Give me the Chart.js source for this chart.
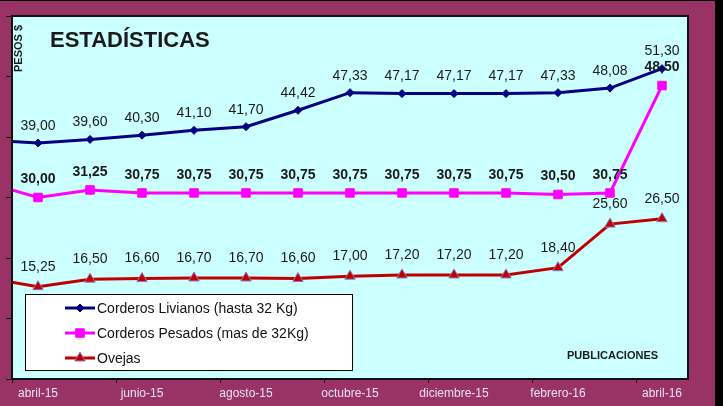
<!DOCTYPE html>
<html>
<head>
<meta charset="utf-8">
<script src="https://cdn.jsdelivr.net/npm/chart.js@4.4.1/dist/chart.umd.min.js"></script>
<style>
  html, body { margin: 0; padding: 0; background: #000; }
  #frame { position: absolute; left: 0; top: 1px; width: 715px; height: 405px; background: #993366; }
  #wrap { position: absolute; left: 0; top: 0; width: 723px; height: 406px; }
</style>
</head>
<body>
<div id="frame"></div>
<div id="wrap"><canvas id="chart"></canvas></div>
<script>
// months (first one sits left of the plot, only its line stub shows)
const months = [
  "marzo-15", "abril-15", "mayo-15", "junio-15", "julio-15", "agosto-15",
  "septiembre-15", "octubre-15", "noviembre-15", "diciembre-15",
  "enero-16", "febrero-16", "marzo-16", "abril-16",
];
const livianos = [39.5, 39.0, 39.6, 40.3, 41.1, 41.7, 44.42, 47.33, 47.17, 47.17, 47.17, 47.33, 48.08, 51.3];
const pesados = [32.5, 30.0, 31.25, 30.75, 30.75, 30.75, 30.75, 30.75, 30.75, 30.75, 30.75, 30.5, 30.75, 48.5];
const ovejas = [16.7, 15.25, 16.5, 16.6, 16.7, 16.7, 16.6, 17.0, 17.2, 17.2, 17.2, 18.4, 25.6, 26.5];

const yMin = 0;
const yMax = 60;
const yStep = 10;

const FONT = "'Liberation Sans', Arial, sans-serif";
const fmt = (v) => v.toFixed(2).replace(".", ",");

// cyan plot box + frame, texts, legend and value labels
const decor = {
  id: "decor",
  beforeDraw(chart) {
    const { ctx, chartArea: a } = chart;
    ctx.save();
    ctx.fillStyle = "#CCFFFF";
    ctx.fillRect(a.left, a.top, a.right - a.left, a.bottom - a.top);
    ctx.restore();
  },
  afterDatasetsDraw(chart) {
    const { ctx, chartArea: a } = chart;
    ctx.save();
    ctx.strokeStyle = "#111";
    ctx.lineWidth = 2;
    ctx.strokeRect(a.left, a.top, a.right - a.left, a.bottom - a.top);

    // value labels
    ctx.textAlign = "center";
    ctx.textBaseline = "middle";
    ctx.fillStyle = "#1a1a1a";
    chart.data.datasets.forEach((ds, i) => {
      const meta = chart.getDatasetMeta(i);
      ctx.font = (ds.labelBold ? "bold " : "") + "14px " + FONT;
      meta.data.forEach((pt, j) => {
        if (pt.x < a.left) return;
        ctx.fillText(fmt(ds.data[j]), pt.x, pt.y - ds.labelGap);
      });
    });

    // title
    ctx.textAlign = "left";
    ctx.textBaseline = "alphabetic";
    ctx.font = "bold 22px " + FONT;
    ctx.fillText("ESTADÍSTICAS", 50, 47);

    ctx.font = "bold 11px " + FONT;
    ctx.fillText("PUBLICACIONES", 567, 359);

    ctx.save();
    ctx.translate(22, 72);
    ctx.rotate(-Math.PI / 2);
    ctx.fillText("PESOS $", 0, 0);
    ctx.restore();

    // legend
    ctx.fillStyle = "#fff";
    ctx.fillRect(25, 294, 327, 76);
    ctx.strokeStyle = "#000";
    ctx.lineWidth = 1;
    ctx.strokeRect(25.5, 294.5, 327, 76);
    chart.data.datasets.forEach((ds, i) => {
      const y = 308 + i * 25;
      ctx.strokeStyle = ds.borderColor;
      ctx.lineWidth = 3;
      ctx.beginPath();
      ctx.moveTo(65, y);
      ctx.lineTo(95, y);
      ctx.stroke();
      ctx.fillStyle = ds.pointBackgroundColor;
      ctx.strokeStyle = ds.pointBorderColor;
      ctx.lineWidth = ds.pointBorderWidth;
      Chart.helpers.drawPoint(ctx, {
        pointStyle: ds.pointStyle,
        radius: ds.pointRadius,
        rotation: 0,
        borderWidth: ds.pointBorderWidth,
      }, 80, y);
      ctx.fillStyle = "#111";
      ctx.font = "14px " + FONT;
      ctx.textBaseline = "middle";
      ctx.fillText(ds.label, 97, y + 1);
    });
    ctx.restore();
  },
};

const ctx = document.getElementById("chart").getContext("2d");
new Chart(ctx, {
  type: "line",
  data: {
    labels: months,
    datasets: [
      {
        label: "Corderos Livianos (hasta 32 Kg)",
        data: livianos,
        borderColor: "#000080",
        borderWidth: 3,
        pointStyle: "rectRot",
        pointRadius: 4,
        pointBackgroundColor: "#000080",
        pointBorderColor: "#000080",
        pointBorderWidth: 1,
        labelGap: 17,
        labelBold: false,
      },
      {
        label: "Corderos Pesados (mas de 32Kg)",
        data: pesados,
        borderColor: "#FF00FF",
        borderWidth: 3,
        pointStyle: "rect",
        pointRadius: 6,
        pointBackgroundColor: "#FF00FF",
        pointBorderColor: "#FF00FF",
        pointBorderWidth: 1,
        labelGap: 18,
        labelBold: true,
      },
      {
        label: "Ovejas",
        data: ovejas,
        borderColor: "#C00000",
        borderWidth: 3,
        pointStyle: "triangle",
        pointRadius: 6,
        pointBackgroundColor: "#C00000",
        pointBorderColor: "#8C7BBF",
        pointBorderWidth: 1,
        labelGap: 20,
        labelBold: false,
      },
    ],
  },
  options: {
    responsive: true,
    maintainAspectRatio: false,
    animation: false,
    layout: { padding: { top: 16, right: 35, left: 0, bottom: 0 } },
    plugins: {
      legend: { display: false },
      tooltip: { enabled: false },
    },
    elements: { line: { tension: 0 } },
    scales: {
      x: {
        type: "category",
        min: "abril-15",
        offset: true,
        grid: {
          offset: true,
          drawOnChartArea: false,
          drawTicks: true,
          tickLength: 4,
          color: (c) => (c.index % 2 === 0 ? "#111" : "transparent"),
          tickColor: (c) => (c.index % 2 === 0 ? "#111" : "transparent"),
        },
        border: { display: true, color: "#111", width: 2 },
        ticks: {
          autoSkip: false,
          maxRotation: 0,
          padding: 3,
          color: "#E8E2EE",
          font: { family: FONT, size: 12 },
          callback: function (value, index) {
            return index % 2 === 0 ? this.getLabelForValue(value) : "";
          },
        },
        afterFit: (s) => {
          s.height = 27;
        },
      },
      y: {
        min: yMin,
        max: yMax,
        ticks: { stepSize: yStep, display: false },
        grid: { drawOnChartArea: false, tickLength: 6, color: "#111" },
        border: { display: true, color: "#111", width: 2 },
        afterFit: (s) => {
          s.width = 12;
        },
      },
    },
  },
  plugins: [decor],
});
</script>
</body>
</html>
